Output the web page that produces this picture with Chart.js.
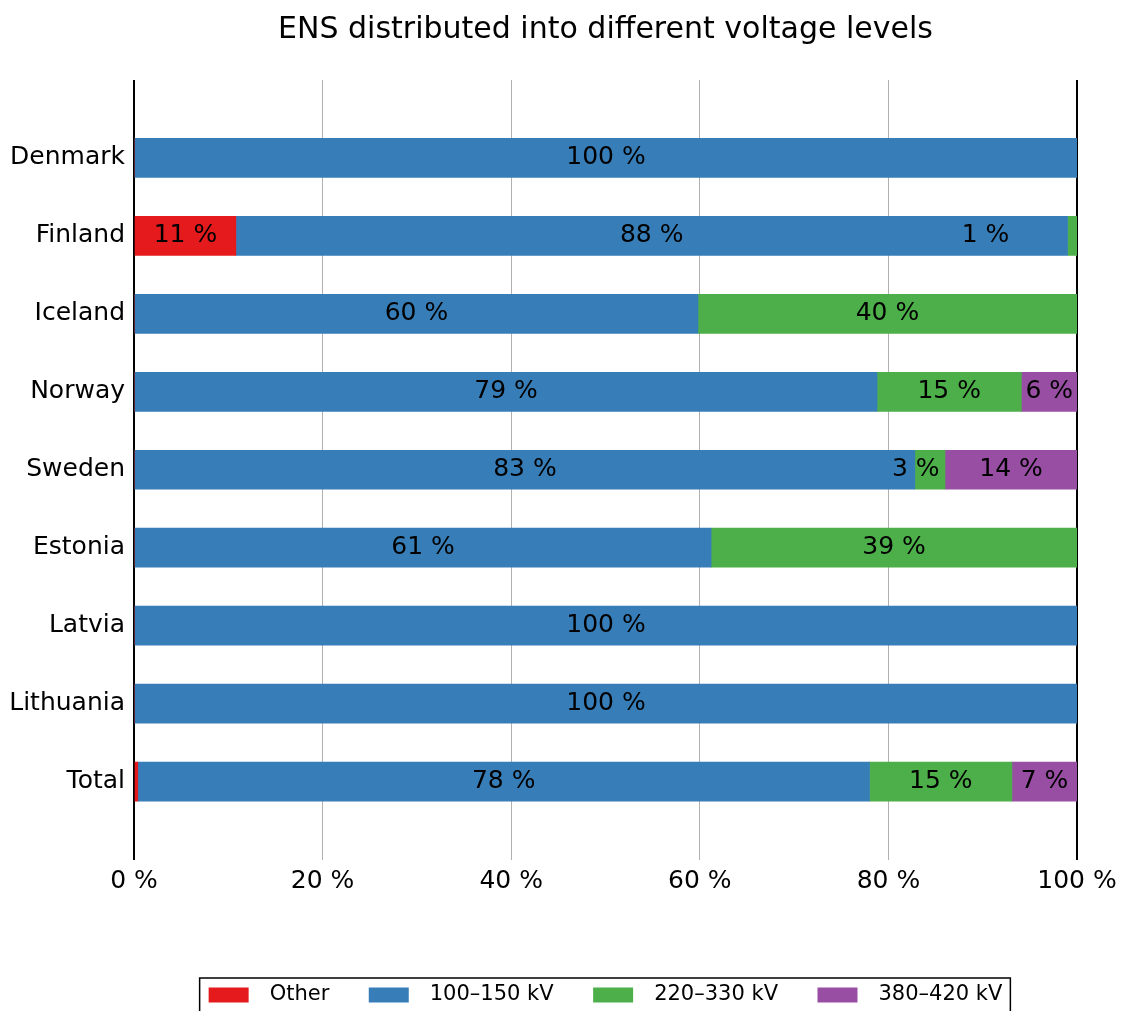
<!DOCTYPE html>
<html>
<head>
<meta charset="utf-8">
<script src="https://cdn.jsdelivr.net/npm/chart.js@4"></script>
<style>
  body { margin: 0; background: #fff; }
</style>
</head>
<body>
<canvas id="ensChart" width="1121" height="1011"></canvas>
<script>
const countries = ['Denmark', 'Finland', 'Iceland', 'Norway', 'Sweden', 'Estonia', 'Latvia', 'Lithuania', 'Total'];

// share of ENS (%) per voltage level
const other = [0, 10.8, 0, 0, 0, 0, 0, 0, 0.4];
const kv100 = [100, 88.2, 59.8, 78.8, 82.8, 61.2, 100, 100, 77.6];
const kv220 = [0, 1.0, 40.2, 15.3, 3.2, 38.8, 0, 0, 15.1];
const kv380 = [0, 0, 0, 5.9, 14.0, 0, 0, 0, 6.9];

const xTicks = [0, 20, 40, 60, 80, 100];

// a few small labels sit off-centre in the original
const labelNudge = {
    '220–330 kV|Finland': -9.2,
    '220–330 kV|Sweden': -1.5
};

// empty rows above and below so the bars sit one step in from the spines
const rows = ['', ...countries, ''];
const pad = arr => [null, ...arr, null];

const datasets = [
    {label: 'Other', data: pad(other), backgroundColor: '#e41a1c'},
    {label: '100–150 kV', data: pad(kv100), backgroundColor: '#377eb8'},
    {label: '220–330 kV', data: pad(kv220), backgroundColor: '#4daf4a'},
    {label: '380–420 kV', data: pad(kv380), backgroundColor: '#984ea3'}
].map(d => ({...d, borderWidth: 0, barThickness: 39}));

const barLabels = {
    id: 'barLabels',
    afterDatasetsDraw(chart) {
        const {ctx} = chart;
        const x = chart.scales.x;
        const unit = x.getPixelForValue(1) - x.getPixelForValue(0);
        ctx.save();
        ctx.font = '25px "DejaVu Sans"';
        ctx.fillStyle = '#000';
        ctx.textAlign = 'center';
        ctx.textBaseline = 'middle';
        chart.data.datasets.forEach((ds, di) => {
            chart.getDatasetMeta(di).data.forEach((bar, i) => {
                const v = ds.data[i];
                if (v == null || v < 0.5) return;
                const nudge = labelNudge[ds.label + '|' + chart.data.labels[i]] || 0;
                const cx = (bar.x + bar.base) / 2 + nudge * unit;
                ctx.fillText(Math.round(v) + ' %', cx, bar.y);
            });
        });
        ctx.restore();
    }
};

const legendFrame = {
    id: 'legendFrame',
    afterDraw(chart) {
        const hb = chart.legend.legendHitBoxes;
        if (!hb || !hb.length) return;
        const {ctx} = chart;
        const left = Math.min(...hb.map(h => h.left)) - 9;
        const right = Math.max(...hb.map(h => h.left + h.width)) + 8;
        const top = hb[0].top + hb[0].height / 2 - 17;
        ctx.save();
        ctx.strokeStyle = '#000';
        ctx.lineWidth = 1.5;
        ctx.strokeRect(left, top, right - left, chart.height - top + 5);
        ctx.restore();
    }
};

Chart.defaults.font.family = '"DejaVu Sans"';
Chart.defaults.color = '#000';

new Chart(document.getElementById('ensChart').getContext('2d'), {
    type: 'bar',
    data: {
        labels: rows,
        datasets: datasets
    },
    options: {
        indexAxis: 'y',
        responsive: false,
        animation: false,
        layout: {
            padding: {left: 0, right: 44, top: 0, bottom: -4.5}
        },
        plugins: {
            title: {
                display: true,
                text: 'ENS distributed into different voltage levels',
                fullSize: false,
                color: '#000',
                font: {size: 30, weight: 'normal'},
                padding: {top: 12, bottom: 32}
            },
            legend: {
                position: 'bottom',
                fullSize: false,
                labels: {
                    boxWidth: 40,
                    boxHeight: 15,
                    padding: 39.5,
                    color: '#000',
                    font: {size: 21},
                    generateLabels: chart => Chart.defaults.plugins.legend.labels.generateLabels(chart)
                        .map(item => ({...item, text: '\u2002' + item.text}))
                }
            },
            tooltip: {enabled: false}
        },
        scales: {
            x: {
                stacked: true,
                min: 0,
                max: 100,
                afterBuildTicks: scale => {
                    scale.ticks = xTicks.map(v => ({value: v}));
                },
                afterFit: scale => {
                    scale.height = 85.5;
                    scale.paddingLeft = 0;
                    scale.paddingRight = 0;
                },
                ticks: {
                    padding: 7,
                    font: {size: 25},
                    callback: v => v + ' %'
                },
                grid: {
                    drawTicks: false,
                    color: ctx => (ctx.tick && (ctx.tick.value === 0 || ctx.tick.value === 100)) ? '#000' : '#b0b0b0',
                    lineWidth: ctx => (ctx.tick && (ctx.tick.value === 0 || ctx.tick.value === 100)) ? 2 : 1
                },
                border: {display: false}
            },
            y: {
                stacked: true,
                offset: false,
                afterFit: scale => {
                    scale.width = 134;
                },
                ticks: {
                    padding: 9,
                    font: {size: 25}
                },
                grid: {display: false, drawTicks: false},
                border: {display: false}
            }
        }
    },
    plugins: [barLabels, legendFrame]
});
</script>
</body>
</html>
